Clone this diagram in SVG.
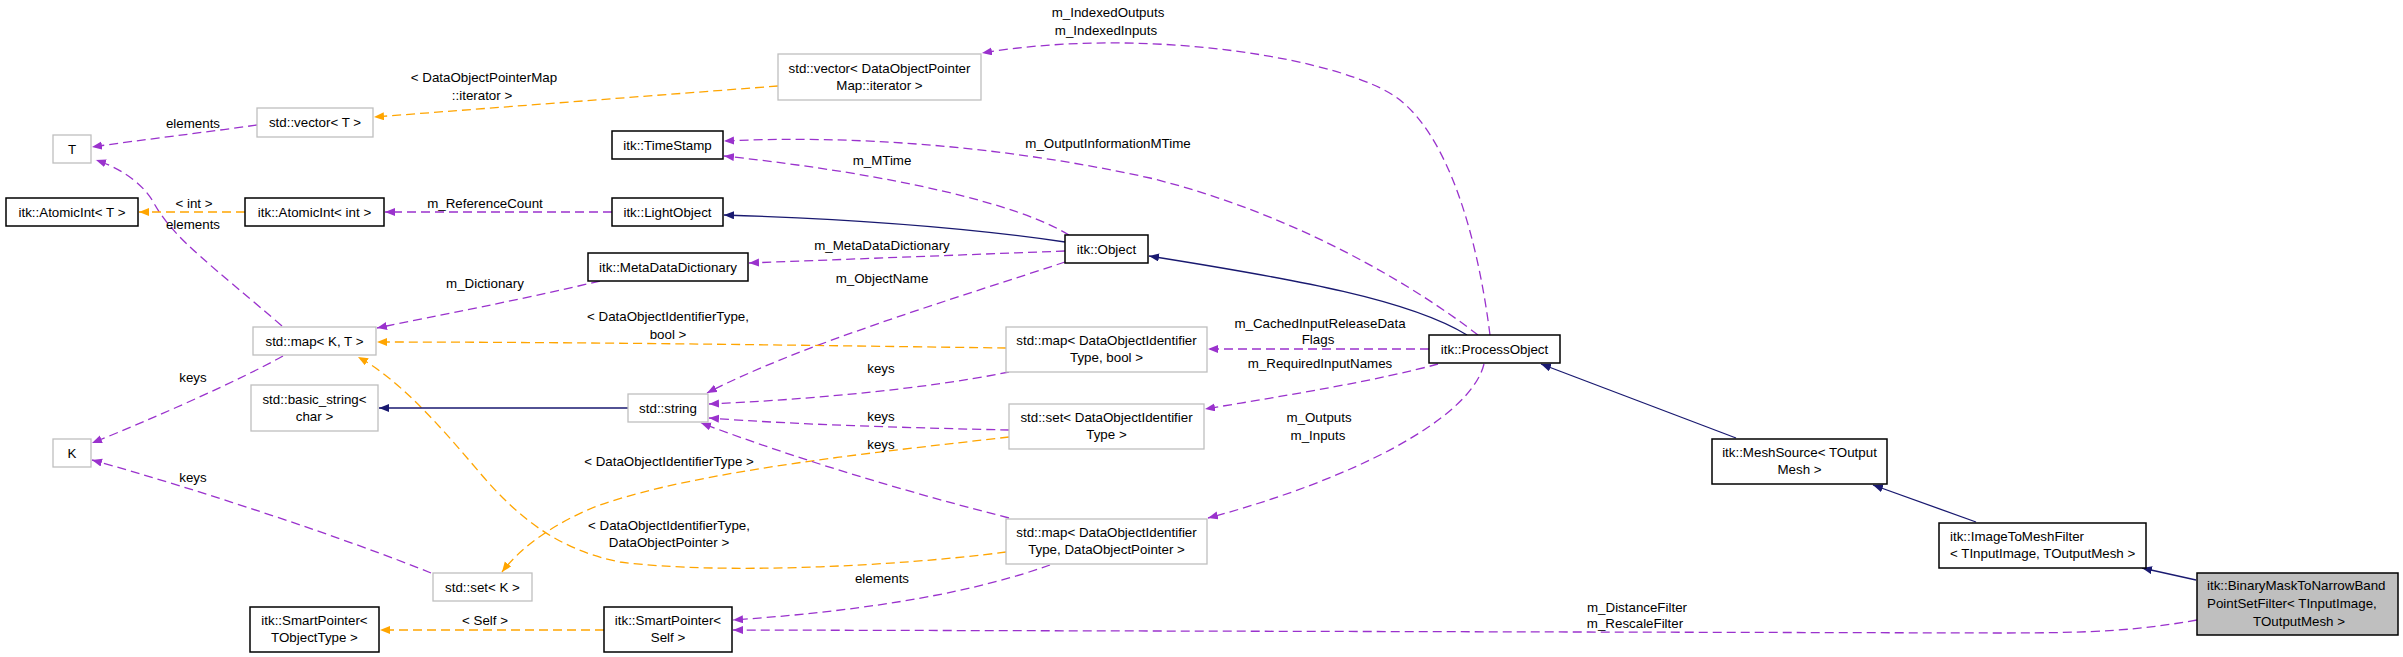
<svg xmlns="http://www.w3.org/2000/svg" width="2403" height="657" viewBox="0 0 2403 657">
<style>
text{font-family:"Liberation Sans",Arial,sans-serif;font-size:13.33px;fill:#000}
.c{text-anchor:middle}
.nb{fill:#fff;stroke:#000;stroke-width:1.5}
.ng{fill:#fff;stroke:#bfbfbf;stroke-width:1.3}
.nh{fill:#bfbfbf;stroke:#000;stroke-width:1.5}
.p{fill:none;stroke:#9a32cd;stroke-width:1.3;stroke-dasharray:9,5;marker-end:url(#ap)}
.o{fill:none;stroke:#ffa500;stroke-width:1.3;stroke-dasharray:9,5;marker-end:url(#ao)}
.n{fill:none;stroke:#191970;stroke-width:1.3;marker-end:url(#an)}
</style>
<defs>
<marker id="ap" markerUnits="userSpaceOnUse" markerWidth="11" markerHeight="9" refX="10" refY="4" orient="auto"><path d="M0,0L10,4L0,8z" fill="#9a32cd"/></marker>
<marker id="ao" markerUnits="userSpaceOnUse" markerWidth="11" markerHeight="9" refX="10" refY="4" orient="auto"><path d="M0,0L10,4L0,8z" fill="#ffa500"/></marker>
<marker id="an" markerUnits="userSpaceOnUse" markerWidth="11" markerHeight="9" refX="10" refY="4" orient="auto"><path d="M0,0L10,4L0,8z" fill="#191970"/></marker>
</defs>
<rect width="2403" height="657" fill="#fff"/>
<g id="connectors">
<path class="p" d="M257,125C200,133 140,140 92,147"/>
<text class="c" x="193" y="128">elements</text>
<path class="p" d="M282,326C215,268 175,240 155,205C145,186 125,170 96,160"/>
<text class="c" x="193" y="229">elements</text>
<path class="o" d="M245,212L139,212"/>
<text class="c" x="194" y="208">&lt; int &gt;</text>
<path class="p" d="M612,212L385,212"/>
<text class="c" x="485" y="208">m_ReferenceCount</text>
<path class="n" d="M1065,242C950,225 820,218 724,215"/>
<path class="p" d="M1069,235C1020,205 900,175 724,156"/>
<text class="c" x="882" y="165">m_MTime</text>
<path class="p" d="M1478,335C1420,290 1300,215 1150,178C1000,145 850,135 724,141"/>
<text class="c" x="1108" y="148">m_OutputInformationMTime</text>
<path class="p" d="M1490,335C1478,240 1450,140 1400,100C1350,60 1150,25 982,53"/>
<text class="c" x="1108" y="17">m_IndexedOutputs</text>
<text class="c" x="1106" y="35">m_IndexedInputs</text>
<path class="o" d="M778,86L374,117"/>
<text class="c" x="484" y="82">&lt; DataObjectPointerMap</text>
<text class="c" x="482" y="100">::iterator &gt;</text>
<path class="p" d="M1065,251L749,263"/>
<text class="c" x="882" y="250">m_MetaDataDictionary</text>
<path class="p" d="M600,281C520,300 440,315 377,328"/>
<text class="c" x="485" y="288">m_Dictionary</text>
<path class="p" d="M1065,262C950,300 800,345 707,393"/>
<text class="c" x="882" y="283">m_ObjectName</text>
<path class="o" d="M1006,348C850,346 600,342 377,342"/>
<text class="c" x="668" y="321">&lt; DataObjectIdentifierType,</text>
<text class="c" x="668" y="339">bool &gt;</text>
<path class="p" d="M1009,372C920,390 800,400 709,404"/>
<text class="c" x="881" y="373">keys</text>
<path class="p" d="M1429,349L1208,349"/>
<text class="c" x="1320" y="328">m_CachedInputReleaseData</text>
<text class="c" x="1318" y="344">Flags</text>
<path class="p" d="M1438,364C1380,380 1290,395 1205,409"/>
<text class="c" x="1320" y="368">m_RequiredInputNames</text>
<path class="p" d="M1009,430C920,428 800,425 709,418"/>
<text class="c" x="881" y="421">keys</text>
<path class="o" d="M1009,437C880,452 700,470 600,505C555,522 520,548 502,572"/>
<text class="c" x="669" y="466">&lt; DataObjectIdentifierType &gt;</text>
<path class="p" d="M1009,518C900,490 800,460 701,423"/>
<text class="c" x="881" y="449">keys</text>
<path class="o" d="M1006,552C900,566 720,575 620,562C560,550 520,520 480,473C440,426 400,380 358,357"/>
<text class="c" x="669" y="530">&lt; DataObjectIdentifierType,</text>
<text class="c" x="669" y="547">DataObjectPointer &gt;</text>
<path class="p" d="M1050,565C980,590 880,610 733,620"/>
<text class="c" x="882" y="583">elements</text>
<path class="p" d="M1484,364C1470,420 1350,480 1208,518"/>
<text class="c" x="1319" y="422">m_Outputs</text>
<text class="c" x="1318" y="440">m_Inputs</text>
<path class="o" d="M604,630L380,630"/>
<text class="c" x="485" y="625">&lt; Self &gt;</text>
<path class="p" d="M2197,620C2140,630 2100,633 2000,633L733,630"/>
<text class="c" x="1637" y="612">m_DistanceFilter</text>
<text class="c" x="1635" y="628">m_RescaleFilter</text>
<path class="n" d="M628,408L379,408"/>
<path class="p" d="M283,356C240,380 150,420 92,443"/>
<text class="c" x="193" y="382">keys</text>
<path class="p" d="M431,573C350,540 200,490 92,460"/>
<text class="c" x="193" y="482">keys</text>
<path class="n" d="M1467,335C1410,300 1300,280 1149,256"/>
<path class="n" d="M1736,438L1541,364"/>
<path class="n" d="M1976,522L1873,485"/>
<path class="n" d="M2196,580L2142,568"/>
</g>
<g id="n_T"><rect class="ng" x="53" y="135" width="38" height="28"/><text class="c" x="72" y="154">T</text></g>
<g id="n_vectorT"><rect class="ng" x="257" y="108" width="116" height="29"/><text class="c" x="315" y="127">std::vector&lt; T &gt;</text></g>
<g id="n_TimeStamp"><rect class="nb" x="612" y="131" width="111" height="28"/><text class="c" x="667.5" y="150">itk::TimeStamp</text></g>
<g id="n_AtomicIntT"><rect class="nb" x="6" y="198" width="132" height="28"/><text class="c" x="72" y="217">itk::AtomicInt&lt; T &gt;</text></g>
<g id="n_AtomicIntInt"><rect class="nb" x="245" y="198" width="139" height="28"/><text class="c" x="314.5" y="217">itk::AtomicInt&lt; int &gt;</text></g>
<g id="n_LightObject"><rect class="nb" x="612" y="198" width="111" height="28"/><text class="c" x="667.5" y="217">itk::LightObject</text></g>
<g id="n_MetaDataDictionary"><rect class="nb" x="588" y="253" width="160" height="28"/><text class="c" x="668" y="272">itk::MetaDataDictionary</text></g>
<g id="n_mapKT"><rect class="ng" x="253" y="327" width="123" height="28"/><text class="c" x="314.5" y="346">std::map&lt; K, T &gt;</text></g>
<g id="n_basic_string"><rect class="ng" x="251" y="385" width="127" height="46"/><text class="c" x="314.5" y="404">std::basic_string&lt;</text><text class="c" x="314.5" y="421">char &gt;</text></g>
<g id="n_string"><rect class="ng" x="628" y="394" width="80" height="28"/><text class="c" x="668" y="413">std::string</text></g>
<g id="n_K"><rect class="ng" x="53" y="439" width="38" height="28"/><text class="c" x="72" y="458">K</text></g>
<g id="n_setK"><rect class="ng" x="433" y="573" width="99" height="28"/><text class="c" x="482.5" y="592">std::set&lt; K &gt;</text></g>
<g id="n_SmartPointerTObj"><rect class="nb" x="250" y="607" width="129" height="45"/><text class="c" x="314.5" y="625">itk::SmartPointer&lt;</text><text class="c" x="314.5" y="642">TObjectType &gt;</text></g>
<g id="n_SmartPointerSelf"><rect class="nb" x="604" y="607" width="128" height="45"/><text class="c" x="668" y="625">itk::SmartPointer&lt;</text><text class="c" x="668" y="642">Self &gt;</text></g>
<g id="n_vectorDOPMap"><rect class="ng" x="778" y="54" width="203" height="46"/><text class="c" x="879.5" y="73">std::vector&lt; DataObjectPointer</text><text class="c" x="879.5" y="90">Map::iterator &gt;</text></g>
<g id="n_Object"><rect class="nb" x="1065" y="235" width="83" height="28"/><text class="c" x="1106.5" y="254">itk::Object</text></g>
<g id="n_mapDOITbool"><rect class="ng" x="1006" y="327" width="201" height="45"/><text class="c" x="1106.5" y="345">std::map&lt; DataObjectIdentifier</text><text class="c" x="1106.5" y="362">Type, bool &gt;</text></g>
<g id="n_ProcessObject"><rect class="nb" x="1429" y="335" width="131" height="28"/><text class="c" x="1494.5" y="354">itk::ProcessObject</text></g>
<g id="n_setDOIT"><rect class="ng" x="1009" y="404" width="195" height="45"/><text class="c" x="1106.5" y="422">std::set&lt; DataObjectIdentifier</text><text class="c" x="1106.5" y="439">Type &gt;</text></g>
<g id="n_mapDOITDOP"><rect class="ng" x="1006" y="519" width="201" height="45"/><text class="c" x="1106.5" y="537">std::map&lt; DataObjectIdentifier</text><text class="c" x="1106.5" y="554">Type, DataObjectPointer &gt;</text></g>
<g id="n_MeshSource"><rect class="nb" x="1712" y="439" width="175" height="45"/><text class="c" x="1799.5" y="457">itk::MeshSource&lt; TOutput</text><text class="c" x="1799.5" y="474">Mesh &gt;</text></g>
<g id="n_ImageToMeshFilter"><rect class="nb" x="1939" y="523" width="207" height="45"/><text x="1950" y="541">itk::ImageToMeshFilter</text><text x="1950" y="558">&lt; TInputImage, TOutputMesh &gt;</text></g>
<g id="n_BinaryMask"><rect class="nh" x="2197" y="573" width="201" height="62"/><text x="2207" y="590">itk::BinaryMaskToNarrowBand</text><text x="2207" y="608">PointSetFilter&lt; TInputImage,</text><text class="c" x="2299" y="626">TOutputMesh &gt;</text></g>
</svg>
